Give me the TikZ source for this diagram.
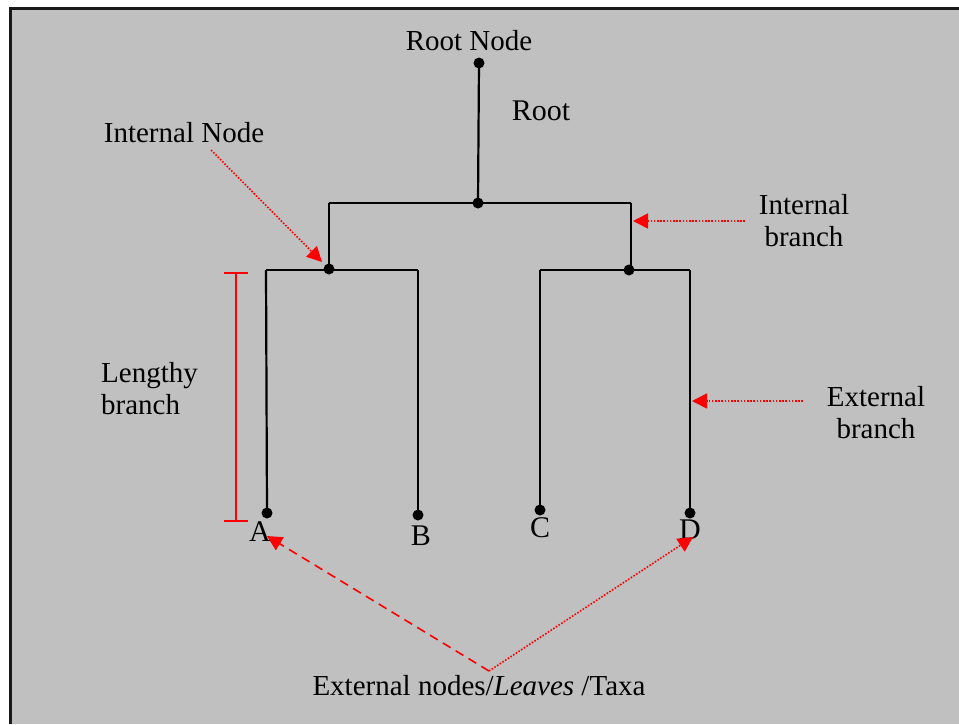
\documentclass[tikz,border=0pt]{standalone}
\usepackage{fontspec}
\setmainfont{Liberation Serif}
\usetikzlibrary{arrows.meta}
\begin{document}
\begin{tikzpicture}[x=1pt,y=-1pt,
  tree/.style={line width=2.2pt,black},
  dot/.style={circle,fill=black,inner sep=0pt,minimum size=11pt},
  lbl/.style={font=\fontsize{29}{32}\selectfont,inner sep=0pt,text=black},
  big/.style={font=\fontsize{30}{34}\selectfont,inner sep=0pt},
  redarrow/.style={red,line width=1.6pt,-{Triangle[length=15pt,width=15pt]}},
  dotted red/.style={redarrow,dash pattern=on 1.6pt off 1.6pt},
  dashed red/.style={redarrow,dash pattern=on 9pt off 6pt}]
\useasboundingbox (0,0) rectangle (959,724);
\fill[white] (0,0) rectangle (959,724);
\fill[fill={rgb,255:red,192;green,192;blue,192}] (10,8) rectangle (959,724);
\draw[line width=3pt,black!90] (10,724) -- (10,8) -- (959,8);

% tree
\node[dot] (root) at (479,63) {};
\node[dot] (top) at (478,203) {};
\node[dot] (inL) at (329,269) {};
\node[dot] (inR) at (629,270) {};
\coordinate (tl) at (329,203);
\coordinate (tr) at (631,203);
\coordinate (trb) at (631,270);
\coordinate (lL) at (266,270);
\coordinate (lR) at (418,270);
\coordinate (rL) at (540,270);
\coordinate (rR) at (690,270);
\node[dot] (dA) at (267,513) {};
\node[dot] (dB) at (418,515) {};
\node[dot] (dC) at (540,510) {};
\node[dot] (dD) at (690,513) {};

\draw[tree] (root.center) -- (top.center);
\draw[tree] (tl) -- (tr);
\draw[tree] (tl) -- (inL.center);
\draw[tree] (tr) -- (trb);
\draw[tree] (lL) -- (lR);
\draw[tree] (rL) -- (rR);
\draw[tree] (lL) -- (dA.center);
\draw[tree] (lR) -- (dB.center);
\draw[tree] (rL) -- (dC.center);
\draw[tree] (rR) -- (dD.center);

% labels
\node[lbl] (rootnode) at (469,41) {Root Node};
\node[big] (rootlbl) at (541,111) {Root};
\node[lbl] (intnode) at (184,133) {Internal Node};
\node[lbl,align=center] (intbr) at (804,221) {Internal\\branch};
\node[lbl,align=center] (extbr) at (876,413) {External\\branch};
\node[lbl,align=left,anchor=west] (lenbr) at (101,389) {Lengthy\\branch};
\node[big] (A) at (260,532) {A};
\node[big] (B) at (421,536) {B};
\node[big] (C) at (540,528) {C};
\node[big] (D) at (690,530) {D};
\node[lbl] (leaves) at (479,686) {External nodes/\textit{Leaves} /Taxa};

% length bar
\draw[red,line width=1.6pt] (236,273) -- (236,521);
\draw[red,line width=1.6pt] (224,273) -- (248,273);
\draw[red,line width=1.6pt] (224,521) -- (248,521);

% arrows
\coordinate (s1) at (211,150);
\coordinate (t1) at (322,262);
\draw[dotted red] (s1) -- (t1);
\coordinate (s2) at (745,221);
\coordinate (t2) at (633,221);
\draw[dotted red] (s2) -- (t2);
\coordinate (s3) at (803,401);
\coordinate (t3) at (692,401);
\draw[dotted red] (s3) -- (t3);
\coordinate (s4) at (489,671);
\coordinate (t4) at (267,536);
\coordinate (t5) at (693,537);
\draw[dashed red] (s4) -- (t4);
\draw[dotted red] (s4) -- (t5);
\end{tikzpicture}
\end{document}
